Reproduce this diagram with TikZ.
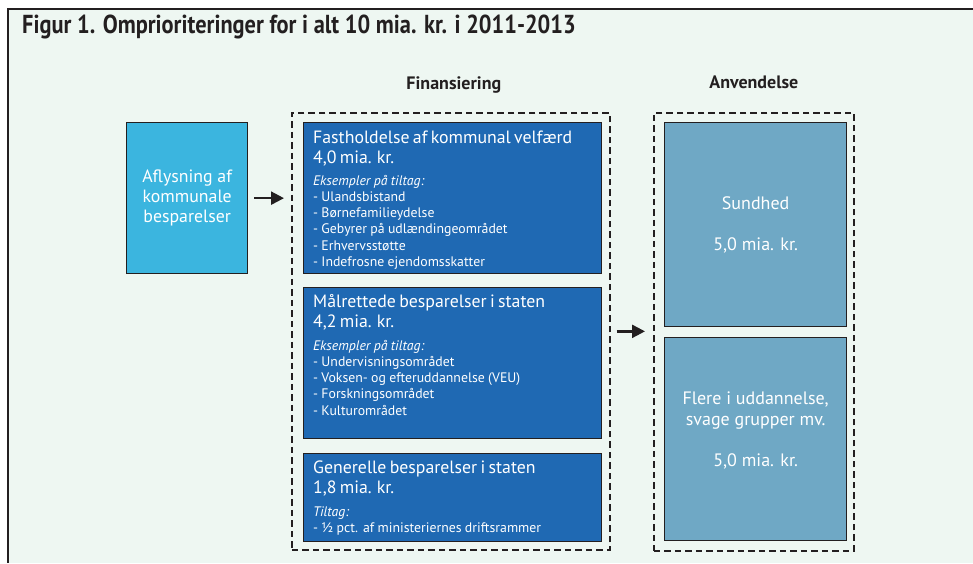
\documentclass[tikz,border=0pt]{standalone}
\usepackage{fontspec}
\setmainfont{PT Sans}
\usetikzlibrary{positioning,arrows.meta}

\definecolor{figbg}{RGB}{238,247,242}
\definecolor{finblue}{RGB}{31,105,179}
\definecolor{aflyscyan}{RGB}{59,181,223}
\definecolor{brugblue}{RGB}{111,168,197}
\definecolor{boxline}{RGB}{35,31,32}

\newcommand{\hovedfont}{\fontsize{17.8}{20}\selectfont}
\newcommand{\listefont}{\fontsize{13.8}{16.2}\selectfont}

\begin{document}
\begin{tikzpicture}[x=1pt,y=-1pt,
  boks/.style={draw=boxline, line width=1.3pt, anchor=north west, inner sep=0pt},
  finboks/.style={boks, fill=finblue, minimum width=298pt},
  brugboks/.style={boks, fill=brugblue, minimum width=182pt, text=white, align=center,
    font=\fontsize{18}{20.5}\selectfont},
  ramme/.style={draw=boxline, line width=1.7pt, dash pattern=on 6.5pt off 4pt,
    anchor=north west, inner sep=0pt},
  bokstekst/.style={text=white, anchor=base west, inner sep=0pt, text width=284pt, align=left},
  kolhoved/.style={font=\bfseries\fontsize{18}{20}\selectfont, text=boxline, anchor=base, inner sep=0pt},
  pil/.style={draw=boxline, line width=2.4pt, -{Triangle[length=13pt,width=13pt]}}
]
\useasboundingbox (0,0) rectangle (973,563);
\fill[figbg] (8,9) rectangle (973,563);
\draw[boxline, line width=1.5pt] (973,9) -- (8,9) -- (8,563);

\node[anchor=base west, inner sep=0pt, text=boxline, font=\bfseries\fontsize{26}{28}\selectfont]
  (titel) at (22,33) {\scalebox{0.86}[1]{Figur 1. Omprioriteringer for i alt 10 mia. kr. i 2011-2013}};

% rammer
\node[ramme, minimum width=318pt, minimum height=437pt] (finramme) at (291,112) {};
\node[ramme, minimum width=200pt, minimum height=438pt] (brugramme) at (653,112) {};
\node[kolhoved] (finhoved) at ([xshift=3pt,yshift=23pt]finramme.north) {Finansiering};
\node[kolhoved] (brughoved) at ([yshift=24pt]brugramme.north) {Anvendelse};

% venstre
\node[boks, fill=aflyscyan, minimum width=121pt, minimum height=151pt, text=white,
  align=center, font=\hovedfont] (aflys) at (126,122) {Aflysning af\\kommunale\\besparelser};

% finansiering
\node[finboks, minimum height=151pt] (fast) at (303,122) {};
\node[bokstekst] (fasttekst) at ([xshift=10pt,yshift=-21pt]fast.north west)
  {\hovedfont Fastholdelse af kommunal velfærd\\4,0 mia. kr.\par
   \vspace{6pt}\listefont\textit{Eksempler på tiltag:}\\- Ulandsbistand\\- Børnefamilieydelse\\
   - Gebyrer på udlændingeområdet\\- Erhvervsstøtte\\- Indefrosne ejendomsskatter\par};
\node[finboks, minimum height=151pt] (maal) at (303,287) {};
\node[bokstekst] (maaltekst) at ([xshift=10pt,yshift=-20.5pt]maal.north west)
  {\hovedfont Målrettede besparelser i staten\\4,2 mia. kr.\par
   \vspace{6.5pt}\listefont\textit{Eksempler på tiltag:}\\- Undervisningsområdet\\
   - Voksen- og efteruddannelse (VEU)\\- Forskningsområdet\\- Kulturområdet\par};
\node[finboks, minimum height=88pt] (gen) at (303,453) {};
\node[bokstekst] (gentekst) at ([xshift=10pt,yshift=-20.5pt]gen.north west)
  {\hovedfont Generelle besparelser i staten\\1,8 mia. kr.\par
   \vspace{6.5pt}\listefont\textit{Tiltag:}\\- ½ pct. af ministeriernes driftsrammer\par};

% anvendelse
\node[brugboks, minimum height=204pt] (sund) at (664,122) {Sundhed\\[20.5pt]5,0 mia. kr.};
\node[brugboks, minimum height=203pt] (udd) at (664,337)
  {Flere i uddannelse,\\svage grupper mv.\\[20.5pt]5,0 mia. kr.\\\mbox{}};

% pile
\draw[pil] ([xshift=6pt]aflys.east) -- ([xshift=-7pt]finramme.west |- aflys.east);
\draw[pil] ([xshift=6pt]finramme.east) -- ([xshift=-8pt]brugramme.west |- finramme.east);
\end{tikzpicture}
\end{document}
